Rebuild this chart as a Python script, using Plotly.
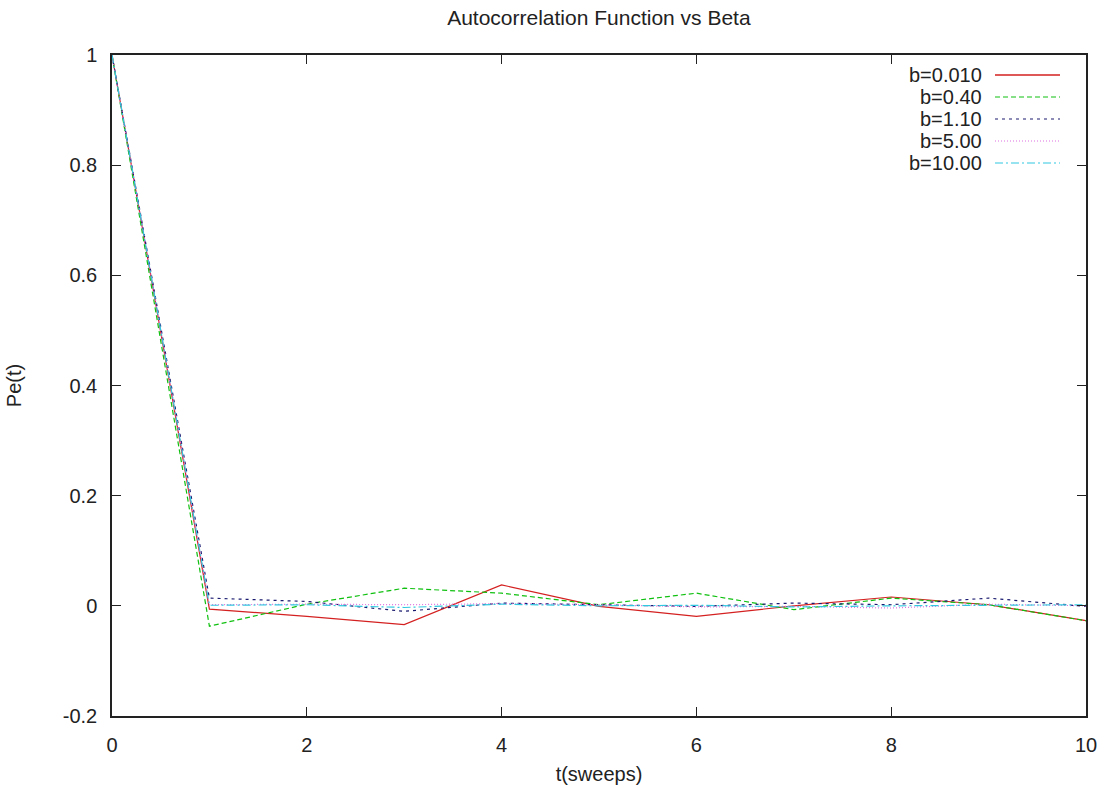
import plotly.graph_objects as go

# Sweep index and autocorrelation Pe(t) for each beta
t_sweeps = [0, 1, 2, 3, 4, 5, 6, 7, 8, 9, 10]

pe_b0010 = [1.0, -0.006, -0.019, -0.034, 0.038, -0.001, -0.019, 0.000, 0.016, 0.002, -0.027]
pe_b040 = [1.0, -0.037, 0.003, 0.032, 0.023, 0.002, 0.023, -0.007, 0.014, 0.002, -0.027]
pe_b110 = [1.0, 0.014, 0.008, -0.010, 0.005, 0.002, -0.001, 0.005, 0.002, 0.014, -0.001]
pe_b500 = [1.0, 0.002, 0.003, 0.002, 0.004, 0.002, -0.002, -0.001, -0.004, 0.003, 0.000]
pe_b1000 = [1.0, 0.001, 0.002, -0.003, 0.003, 0.000, 0.001, -0.002, 0.000, 0.001, 0.002]

series_names = ["b=0.010", "b=0.40", "b=1.10", "b=5.00", "b=10.00"]
series_values = [pe_b0010, pe_b040, pe_b110, pe_b500, pe_b1000]

x_tick_vals = [0, 2, 4, 6, 8, 10]
x_tick_text = ["0", "2", "4", "6", "8", "10"]
y_tick_vals = [-0.2, 0, 0.2, 0.4, 0.6, 0.8, 1.0]
y_tick_text = ["-0.2", "0", "0.2", "0.4", "0.6", "0.8", "1"]

colors = ["#d42020", "#10c010", "#1a1a70", "#e070e0", "#30c8e0"]
dashes = ["solid", "5px,3px", "3px,4px", "1px,2px", "8px,3px,2px,3px"]

FONT = "Liberation Sans, Arial, sans-serif"

fig = go.Figure()
for name, vals, col, dash in zip(series_names, series_values, colors, dashes):
    fig.add_trace(go.Scatter(
        x=t_sweeps, y=vals, mode="lines", name=name,
        line=dict(color=col, width=1.2, dash=dash),
        showlegend=False,
    ))

# gnuplot-style key: right-aligned labels with line samples to their right
L, R, T, B = 112, 1086, 55, 716
W, H = R - L, B - T
def px_x(px):
    return (px - L) / W
def px_y(py):
    return (B - py) / H

for i, (name, col, dash) in enumerate(zip(series_names, colors, dashes)):
    yy = px_y(75 + 22 * i)
    fig.add_annotation(
        xref="paper", yref="paper", x=px_x(984), y=yy, text=name,
        showarrow=False, xanchor="right", yanchor="middle",
        font=dict(family=FONT, size=20, color="#222222"),
    )
    fig.add_shape(
        type="line", xref="paper", yref="paper",
        x0=px_x(995), x1=px_x(1060), y0=yy, y1=yy,
        line=dict(color=col, width=1.5 if i == 0 else 1.2, dash=dash),
    )

axis_common = dict(
    showgrid=False, zeroline=False, showline=True, linecolor="#222222",
    linewidth=1.5, mirror="allticks", ticks="inside", ticklen=9,
    tickcolor="#222222", tickwidth=1.3, automargin=False,
    tickfont=dict(family=FONT, size=20, color="#222222"),
)

fig.update_xaxes(
    range=[0, 10], tickmode="array", tickvals=x_tick_vals, ticktext=x_tick_text,
    title=dict(text="t(sweeps)", font=dict(family=FONT, size=20, color="#222222"), standoff=12),
    ticklabelstandoff=10, **axis_common,
)
fig.update_yaxes(
    range=[-0.2, 1.0], tickmode="array", tickvals=y_tick_vals, ticktext=y_tick_text,
    title=dict(text="Pe(t)", font=dict(family=FONT, size=20, color="#222222"), standoff=36),
    ticklabelstandoff=9, **axis_common,
)

fig.update_layout(
    width=1107, height=788,
    margin=dict(l=L, r=1107 - R, t=T, b=788 - B),
    paper_bgcolor="white", plot_bgcolor="white",
    title=dict(text="Autocorrelation Function vs Beta", x=0.541, xanchor="center",
               y=1 - 18 / 788, yanchor="middle",
               font=dict(family=FONT, size=21, color="#222222")),
)

fig.write_html("out.html")
